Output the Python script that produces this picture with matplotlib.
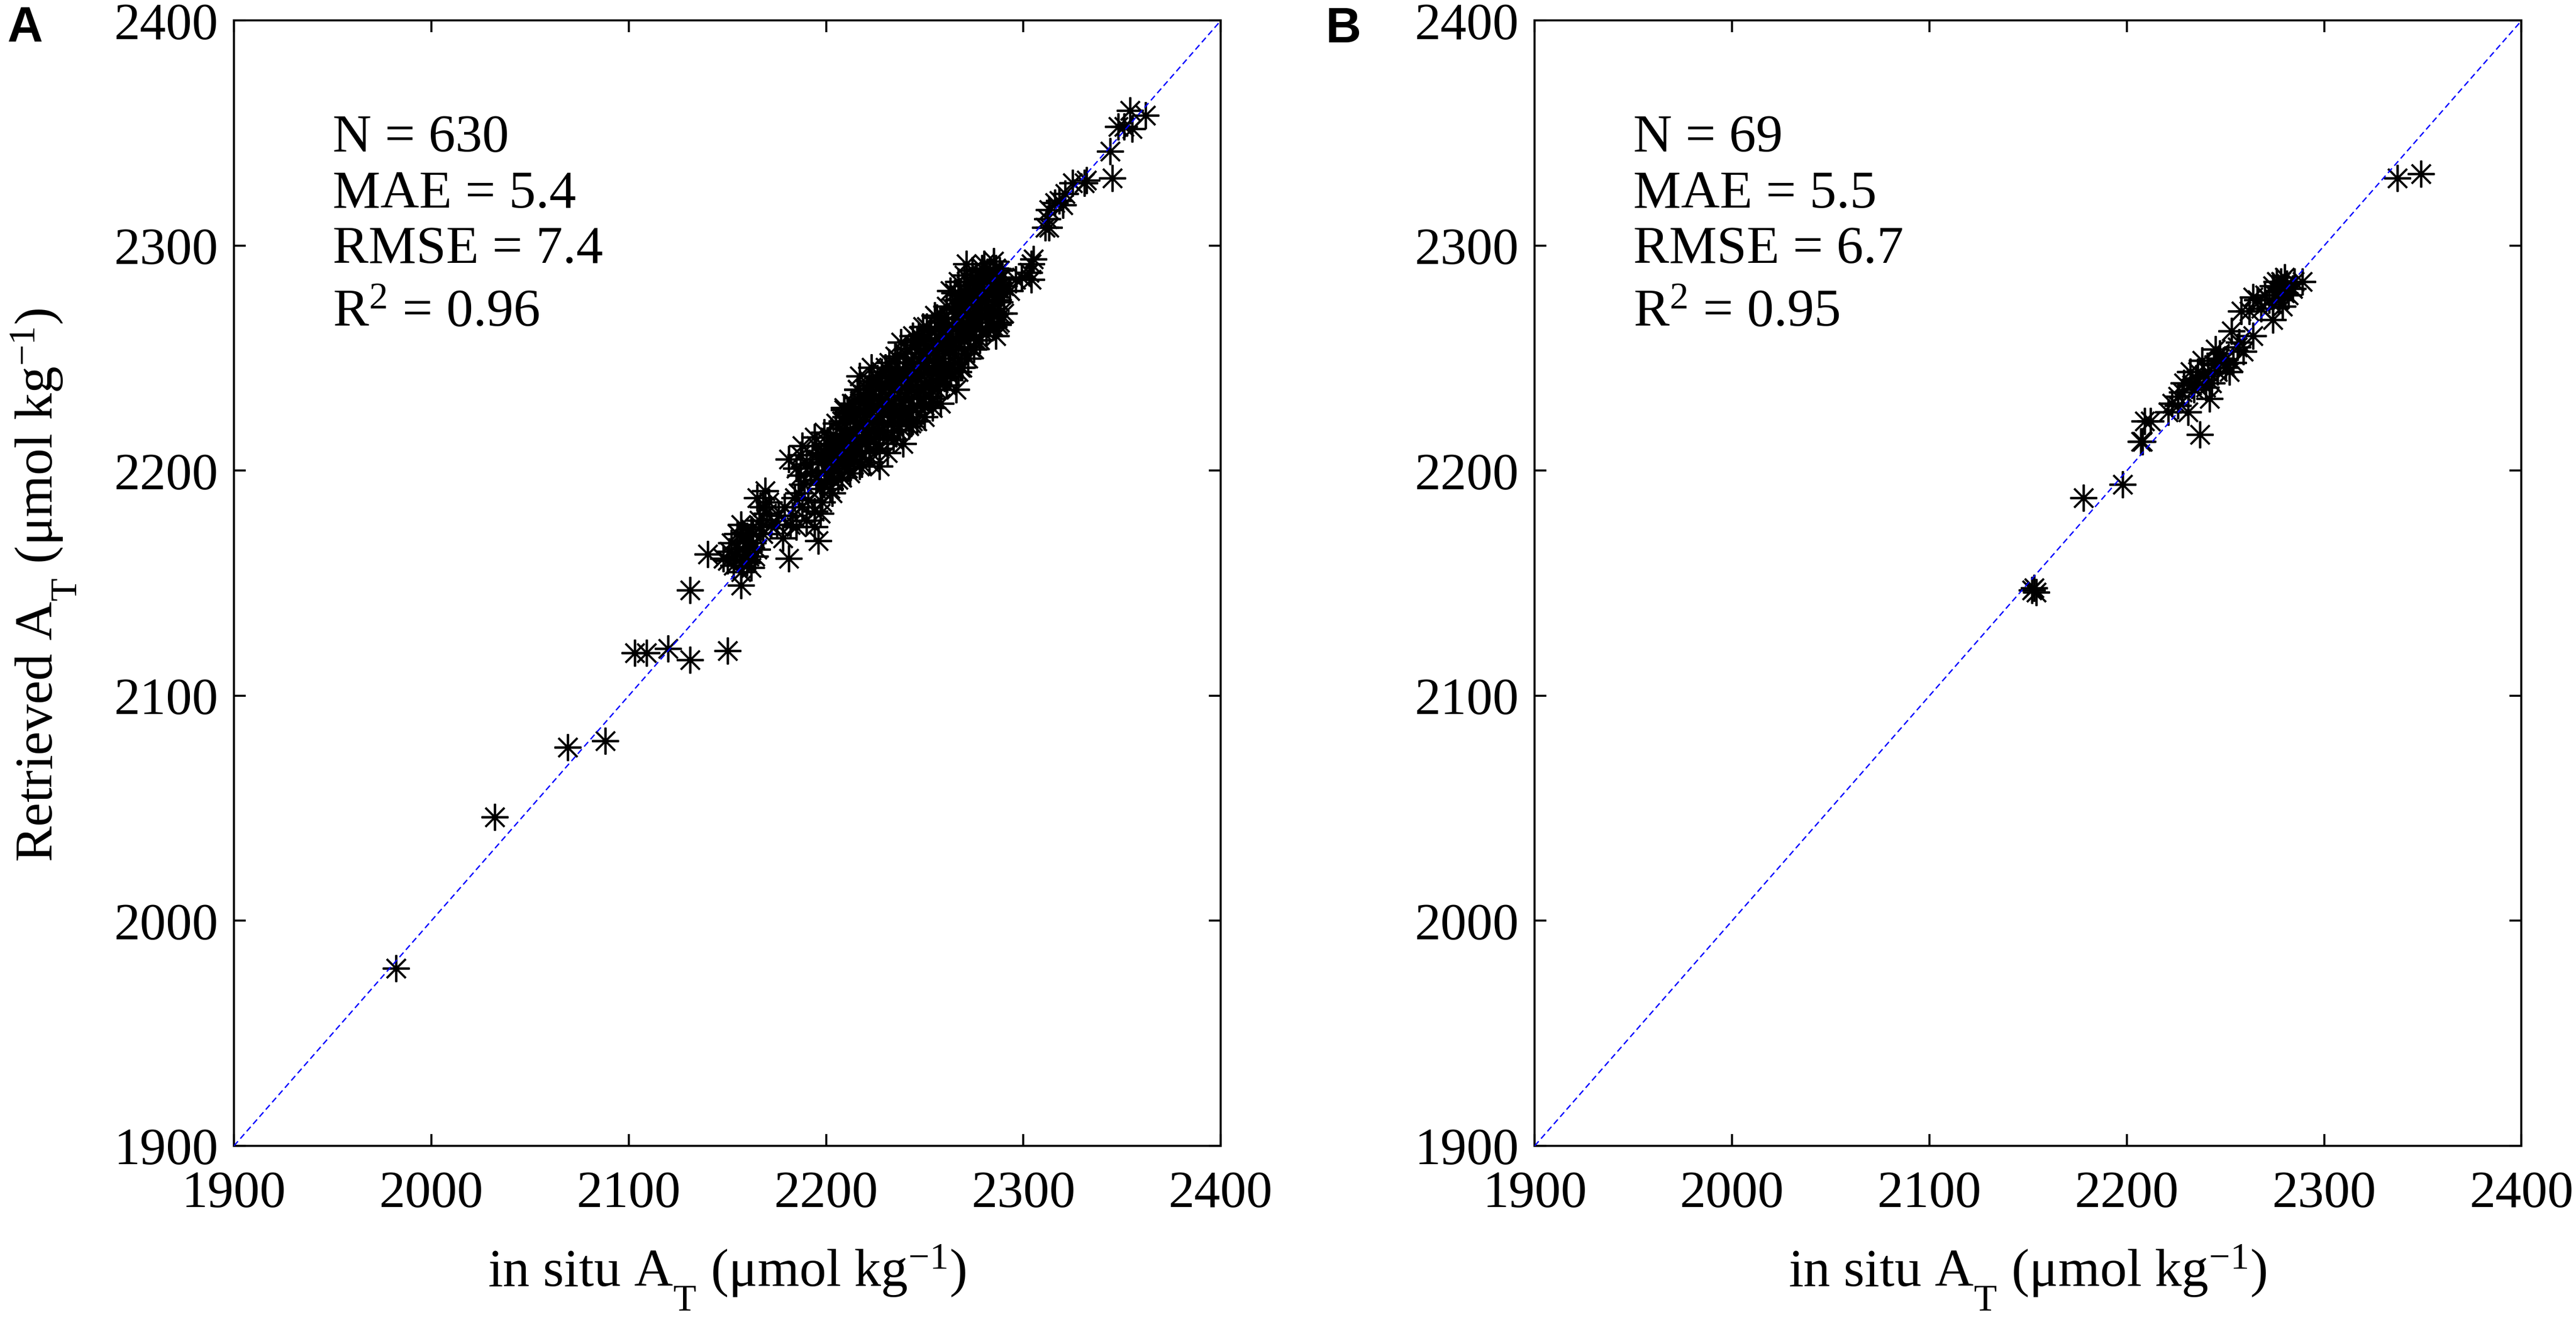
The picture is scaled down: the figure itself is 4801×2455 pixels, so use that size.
import numpy as np
import matplotlib
matplotlib.use("Agg")
import matplotlib.pyplot as plt
import matplotlib._mathtext as mathtext_internals

plt.rcParams["font.family"] = ["Liberation Serif", "DejaVu Serif"]
plt.rcParams["mathtext.fontset"] = "custom"
plt.rcParams["mathtext.rm"] = "Liberation Serif"
plt.rcParams["mathtext.it"] = "Liberation Serif:italic"
plt.rcParams["mathtext.bf"] = "Liberation Serif:bold"
# MATLAB drops subscripts lower than mathtext does
mathtext_internals.FontConstantsBase.sub1 = 1.0

# === Data: (in situ A_T, retrieved A_T) ===
panel_a_points = [
    # low-end outliers
    (1982, 1979), (2032, 2046), (2069, 2077), (2088, 2080), (2103, 2119), (2109, 2119),
    (2120, 2121), (2131, 2116), (2131, 2147), (2150, 2120),
    # 2140-2210 group
    (2140, 2163), (2148, 2161), (2157, 2149), (2151, 2164), (2157, 2176), (2158, 2169),
    (2161, 2166), (2164, 2162), (2160, 2159), (2168, 2172), (2165, 2188), (2169, 2191),
    (2168, 2184), (2181, 2161), (2178, 2170), (2176, 2180), (2184, 2188), (2183, 2180),
    (2188, 2184), (2194, 2182), (2196, 2169), (2194, 2175), (2197, 2181), (2197, 2192),
    (2202, 2192), (2203, 2196), (2187, 2198), (2181, 2205), (2187, 2207), (2188, 2211),
    (2195, 2211), (2194, 2215), (2199, 2217), (2204, 2203), (2217, 2202), (2227, 2202),
    (2231, 2215), (2209, 2227), (2243, 2221), (2250, 2229), (2205, 2211), (2207, 2219),
    (2212, 2207), (2221, 2215), (2239, 2227), (2155, 2172), (2162, 2174), (2159, 2163),
    (2153, 2158), (2166, 2178), (2171, 2186), (2172, 2176), (2185, 2175), (2190, 2178),
    (2198, 2186), (2200, 2200), (2196, 2205), (2190, 2203), (2152, 2168), (2156, 2165),
    (2160, 2171), (2163, 2168), (2158, 2160), (2165, 2165), (2150, 2160), (2162, 2157),
    (2154, 2162), (2159, 2168), (2163, 2172), (2157, 2155), (2161, 2162), (2167, 2175),
    (2170, 2181), (2175, 2176), (2179, 2184), (2182, 2176), (2186, 2190), (2189, 2194),
    (2192, 2199), (2185, 2201), (2191, 2187), (2195, 2196), (2199, 2208), (2193, 2207),
    # edges of the dense band
    (2217, 2242), (2223, 2246), (2216, 2236), (2209, 2228), (2238, 2257), (2244, 2260),
    (2249, 2264), (2255, 2269), (2263, 2280), (2267, 2284), (2271, 2292), (2280, 2292),
    (2285, 2293), (2268, 2246), (2254, 2232), (2244, 2222), (2231, 2215), (2287, 2265),
    (2293, 2280), (2296, 2285), (2304, 2292), (2304, 2285), (2303, 2288), (2299, 2286),
    (2305, 2294),
    # upper tail
    (2311, 2308), (2316, 2319), (2320, 2318), (2321, 2323), (2354, 2360), (2362, 2358),
    (2348, 2353), (2351, 2353), (2355, 2352), (2344, 2342), (2345, 2330), (2325, 2328),
    (2332, 2329), (2331, 2328), (2318, 2320), (2313, 2316), (2312, 2312), (2313, 2308),
    # dense core
    (2196, 2198), (2198, 2204), (2199, 2194), (2200, 2210), (2201, 2203), (2202, 2215),
    (2203, 2199), (2204, 2208), (2205, 2221), (2206, 2204), (2207, 2213), (2208, 2197),
    (2209, 2216), (2210, 2209), (2210, 2224), (2211, 2201), (2212, 2218), (2213, 2212),
    (2213, 2230), (2214, 2205), (2215, 2221), (2216, 2214), (2216, 2236), (2217, 2226),
    (2218, 2208), (2219, 2219), (2220, 2232), (2220, 2212), (2221, 2225), (2222, 2240),
    (2222, 2204), (2223, 2218), (2224, 2229), (2225, 2212), (2225, 2238), (2226, 2222),
    (2227, 2233), (2227, 2210), (2228, 2244), (2229, 2226), (2229, 2217), (2230, 2237),
    (2231, 2229), (2231, 2208), (2232, 2248), (2233, 2222), (2233, 2235), (2234, 2214),
    (2235, 2243), (2235, 2228), (2236, 2250), (2237, 2220), (2237, 2238), (2238, 2231),
    (2239, 2245), (2239, 2212), (2240, 2226), (2240, 2252), (2241, 2238), (2242, 2232),
    (2242, 2220), (2243, 2248), (2244, 2241), (2244, 2228), (2245, 2256), (2246, 2235),
    (2246, 2222), (2247, 2250), (2248, 2243), (2248, 2230), (2249, 2258), (2250, 2238),
    (2250, 2224), (2251, 2252), (2252, 2245), (2252, 2233), (2253, 2262), (2254, 2240),
    (2254, 2228), (2255, 2256), (2255, 2248), (2256, 2236), (2257, 2264), (2257, 2250),
    (2258, 2243), (2258, 2230), (2259, 2258), (2260, 2268), (2260, 2247), (2261, 2238),
    (2262, 2262), (2262, 2254), (2263, 2242), (2264, 2272), (2264, 2257), (2265, 2248),
    (2266, 2265), (2266, 2236), (2267, 2276), (2267, 2255), (2268, 2262), (2269, 2246),
    (2269, 2270), (2270, 2280), (2270, 2258), (2271, 2266), (2272, 2250), (2272, 2274),
    (2273, 2284), (2273, 2260), (2274, 2269), (2275, 2254), (2275, 2278), (2276, 2286),
    (2276, 2264), (2277, 2272), (2278, 2258), (2278, 2281), (2279, 2268), (2280, 2287),
    (2280, 2276), (2281, 2262), (2282, 2272), (2283, 2283), (2283, 2266), (2284, 2278),
    (2285, 2288), (2285, 2270), (2286, 2260), (2287, 2281), (2288, 2275), (2289, 2286),
    (2290, 2270), (2290, 2282), (2288, 2266),
    (2200, 2200), (2204, 2202), (2208, 2210), (2212, 2208), (2216, 2219), (2220, 2221),
    (2224, 2222), (2228, 2231), (2232, 2230), (2236, 2237), (2240, 2241), (2244, 2246),
    (2248, 2248), (2252, 2253), (2256, 2255), (2260, 2261), (2264, 2263), (2268, 2270),
    (2272, 2271), (2276, 2277), (2280, 2281), (2284, 2283), (2288, 2289), (2202, 2206),
    (2210, 2213), (2218, 2215), (2226, 2228), (2234, 2236), (2242, 2240), (2250, 2252),
    (2258, 2259), (2266, 2268), (2274, 2275), (2282, 2280),
    (2201, 2212), (2203, 2190), (2205, 2215), (2206, 2196), (2208, 2222), (2209, 2204),
    (2211, 2226), (2212, 2199), (2214, 2224), (2215, 2209), (2217, 2231), (2218, 2203),
    (2219, 2227), (2221, 2236), (2222, 2209), (2223, 2234), (2224, 2214), (2226, 2241),
    (2227, 2217), (2228, 2224), (2230, 2246), (2231, 2221), (2232, 2240), (2234, 2225),
    (2235, 2251), (2236, 2218), (2237, 2245), (2238, 2224), (2240, 2233), (2241, 2254),
    (2242, 2226), (2243, 2236), (2245, 2243), (2246, 2229), (2247, 2260), (2248, 2237),
    (2249, 2232), (2251, 2244), (2252, 2259), (2253, 2236), (2254, 2252), (2256, 2246),
    (2257, 2239), (2258, 2266), (2259, 2250), (2260, 2241), (2261, 2262), (2263, 2254),
    (2264, 2246), (2265, 2270), (2266, 2258), (2267, 2244), (2268, 2278), (2269, 2263),
    (2270, 2252), (2271, 2282), (2272, 2262), (2273, 2255), (2274, 2279), (2275, 2266),
    (2276, 2258), (2277, 2283), (2278, 2270), (2279, 2262), (2280, 2284), (2281, 2274),
    (2282, 2266), (2283, 2288), (2284, 2272), (2285, 2264), (2286, 2283), (2287, 2276),
    (2288, 2270), (2289, 2280), (2286, 2290), (2279, 2290), (2274, 2289), (2270, 2287),
    (2265, 2279), (2261, 2273), (2256, 2268), (2251, 2264), (2246, 2258), (2241, 2248),
    (2236, 2244), (2232, 2242), (2227, 2237), (2222, 2230), (2219, 2234), (2214, 2230),
]

panel_b_points = [
    (2153, 2148), (2154, 2146), (2152, 2147), (2178, 2188), (2198, 2194), (2207, 2213),
    (2208, 2213), (2212, 2222), (2209, 2222), (2221, 2226), (2231, 2226), (2226, 2233),
    (2223, 2230), (2237, 2216), (2242, 2232), (2229, 2239), (2235, 2241), (2238, 2249),
    (2232, 2244), (2243, 2239), (2247, 2250), (2252, 2244), (2254, 2248), (2247, 2252),
    (2259, 2253), (2253, 2262), (2264, 2260), (2257, 2257), (2258, 2271), (2262, 2271),
    (2264, 2277), (2266, 2276), (2274, 2267), (2274, 2274), (2277, 2276), (2279, 2281),
    (2280, 2286), (2284, 2281), (2289, 2284), (2276, 2284), (2274, 2282), (2270, 2278),
    (2279, 2273), (2245, 2254), (2236, 2244), (2241, 2244), (2337, 2330), (2349, 2332),
    (2233, 2238), (2239, 2242), (2244, 2247), (2249, 2249), (2228, 2235), (2234, 2236),
    (2250, 2246), (2256, 2255), (2277, 2280), (2281, 2283), (2282, 2278), (2275, 2278),
    (2268, 2272), (2278, 2284), (2280, 2279), (2226, 2229), (2240, 2237), (2246, 2244),
    (2272, 2276), (2285, 2284),
]

stats_a = ["N = 630", "MAE = 5.4", "RMSE = 7.4", r"R$^\mathregular{2}$ = 0.96"]
stats_b = ["N = 69", "MAE = 5.5", "RMSE = 6.7", r"R$^\mathregular{2}$ = 0.95"]
stats_y = [2342, 2317, 2292.5, 2264.5]

ticks = [1900, 2000, 2100, 2200, 2300, 2400]
x_label = r"in situ A$_\mathregular{T}$ (μmol kg$^\mathregular{-1}$)"
y_label = r"Retrieved A$_\mathregular{T}$ (μmol kg$^\mathregular{-1}$)"

# === Figure ===
fig = plt.figure(figsize=(4801.5 / 300, 2455.5 / 300), dpi=300)
ax_a = fig.add_axes([0.09082, 0.12994, 0.38304, 0.85418])
ax_b = fig.add_axes([0.59571, 0.12994, 0.38304, 0.85418])

for ax, pts, stats in [(ax_a, panel_a_points, stats_a), (ax_b, panel_b_points, stats_b)]:
    xy = np.array(pts, dtype=float)
    ax.plot(xy[:, 0], xy[:, 1], linestyle="none", marker=(8, 2, 0),
            markersize=12, markeredgewidth=0.9, color="k", zorder=2)
    ax.plot([1900, 2400], [1900, 2400], color=(0, 0, 1), lw=0.6,
            linestyle=(0, (4.5, 2.7)), zorder=3)
    ax.set_xlim(1900, 2400)
    ax.set_ylim(1900, 2400)
    ax.set_xticks(ticks)
    ax.set_yticks(ticks)
    ax.tick_params(direction="in", top=True, right=True, length=5.2, width=0.9,
                   labelsize=23.3)
    ax.tick_params(axis="x", pad=11)
    ax.tick_params(axis="y", pad=7)
    for s in ax.spines.values():
        s.set_linewidth(0.9)
    for line, yv in zip(stats, stats_y):
        ax.text(1950, yv, line, fontsize=24, ha="left", va="baseline")

# axis labels
fig.text(0.2822, 1 - 2398 / 2455, x_label, fontsize=24, ha="center", va="baseline")
fig.text(0.7869, 1 - 2398 / 2455, x_label, fontsize=24, ha="center", va="baseline")
fig.text(82 / 4801, 1 - 1090 / 2455, y_label, fontsize=24, ha="center", va="center",
         rotation=90)

# panel letters
fig.text(14 / 4801, 1 - 77 / 2455, "A", fontsize=22, fontweight="bold",
         family="Liberation Sans", ha="left", va="baseline")
fig.text(2471 / 4801, 1 - 79 / 2455, "B", fontsize=22, fontweight="bold",
         family="Liberation Sans", ha="left", va="baseline")

fig.savefig("out.png", dpi=300, facecolor="white")
